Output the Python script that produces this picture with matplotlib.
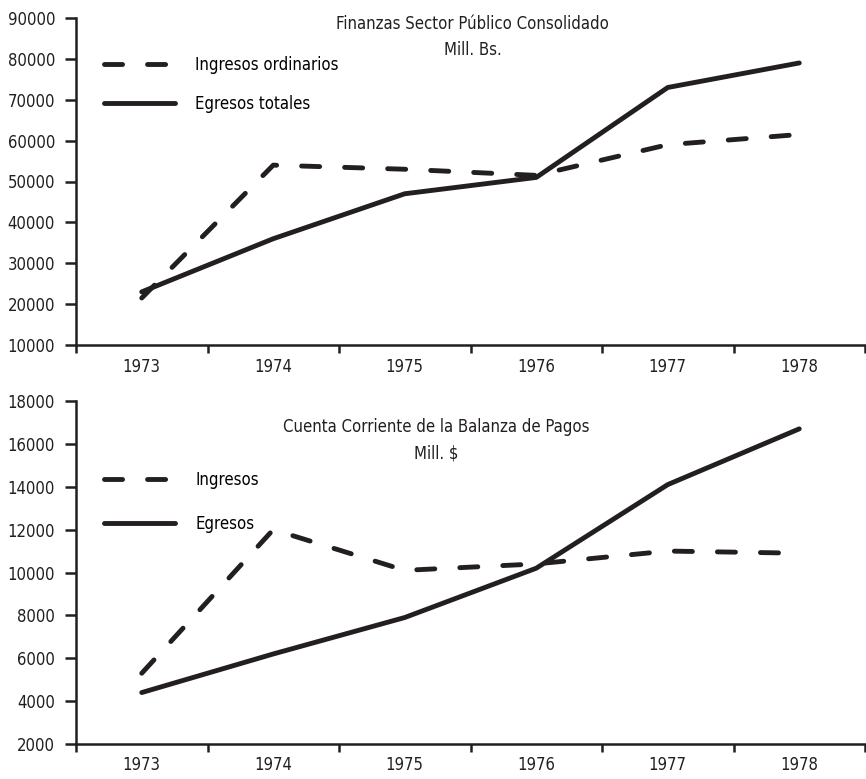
import matplotlib
matplotlib.use("Agg")
import matplotlib.pyplot as plt

# ---------- data ----------
YEARS = ["1973", "1974", "1975", "1976", "1977", "1978"]

# Finanzas Sector Publico Consolidado (Mill. Bs.)
INGRESOS_ORD = [21500, 54000, 53000, 51500, 59000, 61500]
EGRESOS_TOT = [23000, 36000, 47000, 51000, 73000, 79000]

# Cuenta Corriente de la Balanza de Pagos (Mill. $)
INGRESOS = [5300, 12000, 10100, 10400, 11000, 10900]
EGRESOS = [4400, 6200, 7900, 10200, 14100, 16700]

INK = "#231f20"
plt.rcParams["font.family"] = ["DejaVu Sans"]
plt.rcParams["font.stretch"] = "condensed"
plt.rcParams["lines.scale_dashes"] = False

FS = 12


def style_axis(ax, ylo, yhi, ystep):
    for side in ("top", "right"):
        ax.spines[side].set_visible(False)
    for side in ("left", "bottom"):
        ax.spines[side].set_linewidth(1.8)
        ax.spines[side].set_color(INK)
    n = len(YEARS)
    ax.set_xlim(0, n)
    ax.set_xticks(range(n + 1))
    ax.set_xticklabels([])
    ax.set_xticks([i + 0.5 for i in range(n)], minor=True)
    ax.set_xticklabels(YEARS, minor=True, fontsize=FS, color=INK)
    ax.tick_params(axis="x", which="major", length=6, width=1.8,
                   color=INK, direction="out")
    ax.tick_params(axis="x", which="minor", length=0, pad=9)
    ax.set_ylim(ylo, yhi)
    ax.set_yticks(range(ylo, yhi + 1, ystep))
    ax.tick_params(axis="y", length=8, width=1.8, color=INK,
                   labelsize=FS, labelcolor=INK, pad=7)


def draw_panel(ax, ing, egr, labels, title, ylo, yhi, ystep,
               leg_y, leg_sp, title_x, title_y):
    xs = [i + 0.5 for i in range(len(YEARS))]
    ax.plot(xs, ing, color=INK, lw=3.5, linestyle=(0, (13, 18)),
            dash_capstyle="round", solid_capstyle="round", label=labels[0])
    ax.plot(xs, egr, color=INK, lw=3.5, solid_capstyle="round",
            solid_joinstyle="round", label=labels[1])
    style_axis(ax, ylo, yhi, ystep)
    ax.legend(loc="upper left", bbox_to_anchor=(0.035, leg_y), frameon=False,
              fontsize=FS, handlelength=4.3, handletextpad=1.2,
              labelspacing=leg_sp, borderpad=0, borderaxespad=0)
    ax.text(title_x, title_y, title, transform=ax.transAxes, ha="center",
            va="top", fontsize=FS, color=INK, linespacing=1.6)


fig = plt.figure(figsize=(8.66, 7.79), dpi=100)
ax1 = fig.add_axes([76 / 866, 1 - 345 / 779, 789 / 866, 327 / 779])
ax2 = fig.add_axes([76 / 866, 1 - 744 / 779, 789 / 866, 343 / 779])

draw_panel(ax1, INGRESOS_ORD, EGRESOS_TOT,
           ["Ingresos ordinarios", "Egresos totales"],
           "Finanzas Sector Público Consolidado\nMill. Bs.",
           10000, 90000, 10000, 0.885, 1.3, 0.503, 1.01)
draw_panel(ax2, INGRESOS, EGRESOS, ["Ingresos", "Egresos"],
           "Cuenta Corriente de la Balanza de Pagos\nMill. $",
           2000, 18000, 2000, 0.795, 1.55, 0.457, 0.95)

fig.savefig("out.png", dpi=100)
